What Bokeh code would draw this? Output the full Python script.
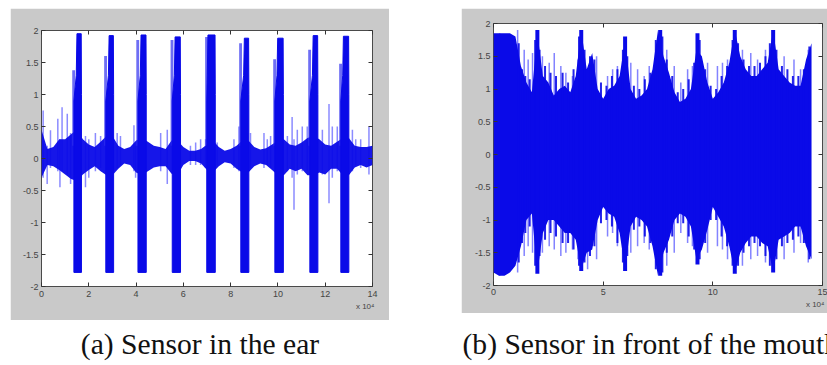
from bokeh.plotting import figure
from bokeh.models import Range1d, FixedTicker, LinearAxis, Label, Spacer, Title
from bokeh.layouts import row, column
from bokeh.embed import file_html
from bokeh.resources import INLINE

# ---------------- panel (a): sensor in the ear ----------------
a_x_ticks = [0, 2, 4, 6, 8, 10, 12, 14]
a_x_tick_labels = ["0", "2", "4", "6", "8", "10", "12", "14"]
a_y_ticks = [-2, -1.5, -1, -0.5, 0, 0.5, 1, 1.5, 2]
a_y_tick_labels = ["-2", "-1.5", "-1", "-0.5", "0", "0.5", "1", "1.5", "2"]

# dense background band (x in units of 10^4 samples)
a_band_x = [0, 0.25, 0.5, 0.75, 1.0, 1.25, 1.5, 1.75, 2.0, 2.25, 2.5, 2.75,
            3.0, 3.25, 3.5, 3.75, 4.0, 4.25, 4.5, 4.75, 5.0, 5.25, 5.5, 5.75,
            6.0, 6.25, 6.5, 6.75, 7.0, 7.25, 7.5, 7.75, 8.0, 8.25, 8.5, 8.75,
            9.0, 9.25, 9.5, 9.75, 10.0, 10.25, 10.5, 10.75, 11.0, 11.25, 11.5,
            11.75, 12.0, 12.25, 12.5, 12.75, 13.0, 13.25, 13.5, 13.75, 14.0]
a_band_hi = [0.45, 0.15, 0.18, 0.3, 0.3, 0.38, 0.45, 0.3, 0.22, 0.18, 0.26, 0.35,
             0.35, 0.2, 0.15, 0.18, 0.28, 0.32, 0.26, 0.2, 0.18, 0.15, 0.28, 0.28,
             0.18, 0.12, 0.12, 0.15, 0.22, 0.28, 0.18, 0.12, 0.15, 0.2, 0.28, 0.28,
             0.18, 0.14, 0.16, 0.22, 0.28, 0.3, 0.22, 0.2, 0.25, 0.32, 0.35,
             0.3, 0.22, 0.2, 0.26, 0.32, 0.32, 0.2, 0.18, 0.18, 0.2]
a_band_lo = [-0.3, -0.1, -0.12, -0.18, -0.25, -0.32, -0.35, -0.25, -0.18, -0.12, -0.2, -0.26,
             -0.26, -0.16, -0.08, -0.1, -0.22, -0.26, -0.2, -0.14, -0.12, -0.12, -0.24, -0.26,
             -0.1, -0.04, -0.04, -0.08, -0.18, -0.22, -0.12, -0.06, -0.08, -0.16, -0.22, -0.22,
             -0.12, -0.08, -0.1, -0.18, -0.26, -0.26, -0.16, -0.2, -0.16, -0.26, -0.26,
             -0.22, -0.25, -0.16, -0.16, -0.26, -0.26, -0.14, -0.1, -0.14, -0.1]

# isolated spikes between the bursts
a_spike_x = [0.07, 0.24, 0.38, 0.69, 0.78, 0.87, 1.09, 1.23, 1.86, 2.0, 2.28, 2.5,
             3.2, 3.34, 3.91, 3.98, 5.04, 5.32, 6.3, 6.52, 6.73, 6.94, 7.43,
             8.14, 8.35, 8.84, 9.41, 9.55, 9.69, 10.4, 10.6, 10.68, 10.82,
             11.03, 11.24, 11.88, 12.16, 12.3, 12.51, 13.15, 13.29, 13.5, 13.85]
a_spike_hi = [0.75, 0.2, 0.44, 0.62, 0.3, 0.8, 0.7, 0.4, 0.35, 0.3, 0.4, 0.35,
              0.4, 0.35, 0.52, 0.2, 0.4, 0.45, 0.2, 0.25, 0.3, 0.3, 0.25,
              0.3, 0.5, 0.4, 0.4, 0.3, 0.35, 0.35, 0.65, 0.3, 0.45,
              0.5, 0.5, 0.45, 0.85, 0.5, 0.5, 0.45, 0.3, 0.3, 0.5]
a_spike_lo = [-0.3, -0.4, -0.15, -0.2, -0.45, -0.2, -0.25, -0.4, -0.45, -0.3, -0.2, -0.15,
              -0.15, -0.1, -0.2, -0.3, -0.2, -0.4, -0.1, -0.1, -0.1, -0.15, -0.1,
              -0.15, -0.2, -0.15, -0.15, -0.1, -0.15, -0.2, -0.3, -0.8, -0.25,
              -0.2, -0.2, -0.25, -0.7, -0.3, -0.2, -0.2, -0.1, -0.15, -0.25]

# the nine loud bursts
a_burst_start = [1.37, 2.72, 4.08, 5.53, 6.99, 8.43, 9.87, 11.35, 12.66]
a_burst_end = [1.69, 3.05, 4.43, 5.88, 7.35, 8.77, 10.23, 11.69, 13.00]
a_burst_peak_x = [1.60, 2.96, 4.31, 5.75, 7.14, 8.68, 10.09, 11.59, 12.87]
a_burst_peak = [1.95, 1.92, 1.93, 1.90, 1.93, 1.88, 1.88, 1.92, 1.91]
a_burst_shoulder = [1.38, 1.60, 1.85, 1.85, 1.90, 1.80, 1.55, 1.70, 1.48]
a_burst_floor = [-1.78, -1.78, -1.78, -1.78, -1.78, -1.78, -1.78, -1.78, -1.78]

# ---------------- panel (b): sensor in front of the mouth ----------------
b_x_ticks = [0, 5, 10, 15]
b_x_tick_labels = ["0", "5", "10", "15"]
b_y_ticks = [-2, -1.5, -1, -0.5, 0, 0.5, 1, 1.5, 2]
b_y_tick_labels = ["-2", "-1.5", "-1", "-0.5", "0", "0.5", "1", "1.5", "2"]

b_band_x = [0, 0.25, 0.5, 0.75, 1.0, 1.25, 1.5, 1.75, 2.0, 2.25, 2.5, 2.75,
            3.0, 3.25, 3.5, 3.75, 4.0, 4.25, 4.5, 4.75, 5.0, 5.25, 5.5, 5.75,
            6.0, 6.25, 6.5, 6.75, 7.0, 7.25, 7.5, 7.75, 8.0, 8.25, 8.5, 8.75,
            9.0, 9.25, 9.5, 9.75, 10.0, 10.25, 10.5, 10.75, 11.0, 11.25, 11.5,
            11.75, 12.0, 12.25, 12.5, 12.75, 13.0, 13.25, 13.5, 13.75, 14.0,
            14.25, 14.5]
b_band_hi = [1.85, 1.85, 1.85, 1.85, 1.8, 1.35, 1.1, 0.95, 1.85, 1.2, 1.1, 0.9,
             1.0, 1.05, 0.95, 1.2, 1.9, 1.3, 1.55, 1.0, 0.85, 1.0, 1.05, 1.2,
             1.75, 1.0, 0.85, 0.9, 1.0, 1.3, 1.9, 1.5, 1.25, 0.95, 0.8, 0.85,
             1.0, 1.6, 1.5, 1.1, 0.85, 0.95, 1.1, 1.4, 1.9, 1.5, 1.3,
             1.2, 1.2, 1.3, 1.4, 1.9, 1.3, 1.2, 1.1, 1.05, 1.05, 1.45, 1.7]
b_band_lo = [-1.8, -1.85, -1.85, -1.8, -1.7, -1.4, -1.0, -0.9, -1.8, -1.2, -1.0, -1.0,
             -1.1, -1.2, -1.2, -1.3, -1.75, -1.5, -1.45, -1.0, -0.8, -0.9, -0.95, -1.2,
             -1.75, -1.1, -0.95, -1.0, -1.1, -1.4, -1.85, -1.5, -1.3, -1.0, -0.9, -0.95,
             -1.1, -1.6, -1.45, -1.15, -0.8, -0.95, -1.1, -1.4, -1.8, -1.5, -1.35,
             -1.25, -1.25, -1.35, -1.4, -1.8, -1.3, -1.25, -1.2, -1.1, -1.1, -1.4, -1.6]

# dark columns that make the ragged edge of the envelope
b_col_x = [1.15, 1.3, 1.45, 1.65, 1.9, 2.1, 2.35, 2.6, 2.85, 3.15, 3.4, 3.65,
           3.9, 4.15, 4.4, 4.6, 4.9, 5.15, 5.4, 5.65, 5.9, 6.1, 6.4, 6.65,
           6.9, 7.15, 7.4, 7.7, 7.9, 8.15, 8.4, 8.65, 8.9, 9.15, 9.4, 9.65,
           9.9, 10.15, 10.4, 10.65, 10.9, 11.15, 11.4, 11.65, 11.9, 12.15, 12.4,
           12.6, 12.9, 13.15, 13.4, 13.65, 13.9, 14.15, 14.4]
b_col_hi = [1.7, 1.3, 1.2, 1.15, 1.75, 1.6, 1.35, 1.25, 1.2, 1.25, 1.1, 1.3,
            1.8, 1.6, 1.5, 1.45, 1.1, 1.05, 1.2, 1.3, 1.6, 1.5, 1.05, 1.0,
            1.15, 1.25, 1.75, 1.8, 1.45, 1.2, 0.95, 1.0, 1.15, 1.4, 1.75, 1.3,
            1.05, 1.0, 1.2, 1.35, 1.75, 1.7, 1.45, 1.35, 1.35, 1.4, 1.5,
            1.7, 1.6, 1.35, 1.3, 1.2, 1.2, 1.3, 1.65]
b_col_lo = [-1.65, -1.35, -1.2, -1.1, -1.7, -1.55, -1.3, -1.2, -1.25, -1.35, -1.35, -1.45,
            -1.7, -1.65, -1.55, -1.4, -1.05, -1.0, -1.1, -1.35, -1.65, -1.55, -1.15, -1.1,
            -1.25, -1.35, -1.75, -1.8, -1.5, -1.25, -1.05, -1.05, -1.25, -1.45, -1.6, -1.35,
            -1.0, -1.0, -1.25, -1.4, -1.7, -1.7, -1.5, -1.4, -1.35, -1.4, -1.55,
            -1.7, -1.6, -1.4, -1.35, -1.3, -1.25, -1.35, -1.6]

b_peak_x = [2.0, 4.0, 6.0, 7.6, 9.3, 11.0, 12.75]
b_peak_hi = [1.9, 1.9, 1.8, 1.9, 1.85, 1.9, 1.9]
b_peak_lo = [-1.82, -1.78, -1.78, -1.85, -1.68, -1.82, -1.8]

b_spike_x = [0.28, 1.1, 1.4, 1.58, 1.78, 2.23, 2.54, 2.77, 3.07, 3.3, 3.6, 3.85,
             4.29, 4.7, 5.2, 5.43, 5.65, 6.26, 6.57, 6.87, 7.1, 7.9, 8.24, 8.54,
             8.85, 9.07, 9.76, 10.21, 10.44, 10.67, 11.35, 11.73, 12.04, 12.4,
             13.25, 13.7, 14.0, 14.35]
b_spike_hi = [1.85, 1.9, 1.6, 1.45, 1.55, 1.5, 1.4, 1.55, 1.35, 1.25, 1.2, 1.45,
              1.3, 1.5, 1.2, 1.3, 1.35, 1.4, 1.3, 1.2, 1.35, 1.6, 1.35, 1.1,
              1.3, 1.35, 1.4, 1.35, 1.4, 1.45, 1.6, 1.55, 1.45, 1.6,
              1.5, 1.45, 1.3, 1.6]
b_spike_lo = [-1.85, -1.8, -1.55, -1.4, -1.5, -1.5, -1.4, -1.45, -1.55, -1.5, -1.45, -1.6,
              -1.75, -1.6, -1.25, -1.2, -1.4, -1.5, -1.4, -1.35, -1.45, -1.7, -1.5, -1.2,
              -1.35, -1.4, -1.5, -1.4, -1.45, -1.6, -1.7, -1.6, -1.55, -1.65,
              -1.6, -1.5, -1.35, -1.65]

caption_a = "(a) Sensor in the ear"
caption_b = "(b) Sensor in front of the mouth"
exponent_text = "x 10\u2074"

# ---------------- styling ----------------
PANEL_GREY = "#c9c9c9"
DARK_BLUE = "#0a0ae8"
MID_BLUE = "#3030f0"
LIGHT_BLUE = "#6464ff"
TICK_FONT = "Liberation Sans"
CAPTION_FONT = "Liberation Serif"


def matlab_axes(p, xt, xl, yt, yl, x_standoff):
    p.xgrid.visible = False
    p.ygrid.visible = False
    for ax in (p.xaxis[0], p.yaxis[0]):
        ax.axis_line_color = None
        ax.major_tick_in = 4
        ax.major_tick_out = 0
        ax.major_tick_line_color = "#333333"
        ax.minor_tick_line_color = None
        ax.major_label_text_font = TICK_FONT
        ax.major_label_text_font_size = "9px"
        ax.major_label_text_color = "#444444"
    p.xaxis[0].ticker = FixedTicker(ticks=xt)
    p.xaxis[0].major_label_overrides = dict(zip(xt, xl))
    p.xaxis[0].major_label_standoff = x_standoff
    p.yaxis[0].ticker = FixedTicker(ticks=yt)
    p.yaxis[0].major_label_overrides = dict(zip(yt, yl))
    p.yaxis[0].major_label_standoff = 3
    top = LinearAxis(ticker=FixedTicker(ticks=xt),
                     major_label_overrides={t: "" for t in xt},
                     major_label_standoff=0, major_tick_in=4, major_tick_out=0,
                     major_tick_line_color="#333333", minor_tick_line_color=None,
                     axis_line_color=None, major_label_text_font_size="1px")
    right = LinearAxis(ticker=FixedTicker(ticks=yt),
                       major_label_overrides={t: "" for t in yt},
                       major_label_standoff=0, major_tick_in=4, major_tick_out=0,
                       major_tick_line_color="#333333", minor_tick_line_color=None,
                       axis_line_color=None, major_label_text_font_size="1px")
    p.add_layout(top, "above")
    p.add_layout(right, "right")
    p.add_layout(Title(text=exponent_text, align="right", text_font=TICK_FONT,
                       text_font_size="8px", text_color="#444444",
                       text_font_style="normal", standoff=0, offset=-2), "below")


# ---------- figure (a) ----------
pa = figure(width=379, height=312, x_range=Range1d(0, 14), y_range=Range1d(-2, 2),
            output_backend="svg", toolbar_location=None,
            min_border_left=31, min_border_right=17, min_border_top=22, min_border_bottom=34,
            background_fill_color="white", border_fill_color=PANEL_GREY,
            outline_line_color="#4a4a4a", outline_line_width=1)
matlab_axes(pa, a_x_ticks, a_x_tick_labels, a_y_ticks, a_y_tick_labels, 4)

pa.segment(x0=a_spike_x, y0=a_spike_lo, x1=a_spike_x, y1=a_spike_hi,
           line_color=LIGHT_BLUE, line_alpha=0.75, line_width=1.5)
pa.varea(x=a_band_x, y1=a_band_lo, y2=a_band_hi, fill_color=DARK_BLUE, fill_alpha=0.95)

# medium-blue shoulders on the left of each burst
pa.quad(left=[s - 0.07 for s in a_burst_start],
        right=[s + 0.05 for s in a_burst_start],
        bottom=[0.2 for _ in a_burst_start], top=a_burst_shoulder,
        fill_color=MID_BLUE, fill_alpha=0.7, line_color=None)
# dark burst bodies
burst_xs, burst_ys = [], []
for x0, x1, xp, pk, fl in zip(a_burst_start, a_burst_end, a_burst_peak_x,
                              a_burst_peak, a_burst_floor):
    burst_xs.append([x0, x0, xp - 0.13, xp - 0.1, x1 - 0.01, x1, x1])
    burst_ys.append([fl, 0.9, 1.3, pk, pk, 1.0, fl])
pa.patches(xs=burst_xs, ys=burst_ys, fill_color=DARK_BLUE, line_color=DARK_BLUE,
           line_width=1)

# ---------- figure (b) ----------
pb = figure(width=366, height=305, x_range=Range1d(0, 15), y_range=Range1d(-2, 2),
            output_backend="svg", toolbar_location=None,
            min_border_left=32, min_border_right=5, min_border_top=15, min_border_bottom=28,
            background_fill_color="white", border_fill_color=PANEL_GREY,
            outline_line_color="#4a4a4a", outline_line_width=1)
matlab_axes(pb, b_x_ticks, b_x_tick_labels, b_y_ticks, b_y_tick_labels, 3)

pb.segment(x0=b_spike_x, y0=b_spike_lo, x1=b_spike_x, y1=b_spike_hi,
           line_color=LIGHT_BLUE, line_alpha=0.8, line_width=1.5)
pb.varea(x=b_band_x, y1=b_band_lo, y2=b_band_hi, fill_color=DARK_BLUE)
pb.segment(x0=b_col_x, y0=b_col_lo, x1=b_col_x, y1=b_col_hi,
           line_color=DARK_BLUE, line_alpha=0.9, line_width=2)
pb.segment(x0=b_peak_x, y0=b_peak_lo, x1=b_peak_x, y1=b_peak_hi,
           line_color=DARK_BLUE, line_width=4)

# window edge strips under panel (b)
strip_light = figure(width=366, height=4, output_backend="svg", toolbar_location=None,
                     x_axis_type=None, y_axis_type=None, min_border=0, frame_align=False,
                     background_fill_color="#e2dee6", border_fill_color="#e2dee6",
                     outline_line_color=None)
strip_blue = figure(width=366, height=3, output_backend="svg", toolbar_location=None,
                    x_axis_type=None, y_axis_type=None, min_border=0, frame_align=False,
                    background_fill_color="#2b5fd6", border_fill_color="#2b5fd6",
                    outline_line_color=None)


def caption_fig(w, h, text, x, align):
    c = figure(width=w, height=h, x_range=Range1d(0, w), y_range=Range1d(0, 1),
               output_backend="svg", toolbar_location=None,
               x_axis_type=None, y_axis_type=None, min_border=0, frame_align=False,
               background_fill_color="white", border_fill_color="white",
               outline_line_color=None)
    c.add_layout(Label(x=x, y=0.46, text=text, text_align=align,
                       text_baseline="middle", text_font=CAPTION_FONT,
                       text_font_size="29.6px", text_color="#111111"))
    return c


cap_a = caption_fig(379, 44, caption_a, 189.5, "center")
cap_b = caption_fig(366, 44, caption_b, 1, "left")

layout = column(Spacer(width=827, height=8),
                row(Spacer(width=10, height=356),
                    column(pa, cap_a),
                    Spacer(width=72, height=356),
                    column(pb, strip_light, strip_blue, cap_b)))

open("out.html", "w").write(file_html(layout, INLINE))
